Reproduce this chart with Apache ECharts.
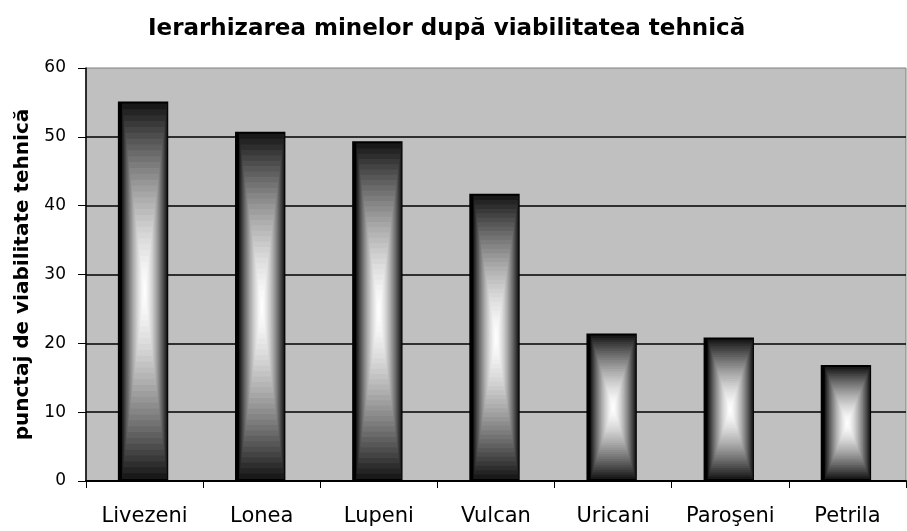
<!DOCTYPE html>
<html>
<head>
<meta charset="utf-8">
<script src="https://cdn.jsdelivr.net/npm/echarts@6/dist/echarts.min.js"></script>
<style>
  html, body { margin: 0; padding: 0; background: #fff; }
  #chart { width: 907px; height: 531px; }
</style>
</head>
<body>
<div id="chart"></div>
<script>
// date
var mine = ['Livezeni', 'Lonea', 'Lupeni', 'Vulcan', 'Uricani', 'Paroşeni', 'Petrila']
var punctaj = [55, 50.6, 49.2, 41.6, 21.3, 20.7, 16.7]
var yTicks = [0, 10, 20, 30, 40, 50, 60]

var RINGS = 32
var FONT = 'DejaVu Sans, Liberation Sans, Arial, sans-serif'

function grayHex(v) {
  var h = Math.round(v).toString(16)
  if (h.length < 2) h = '0' + h
  return '#' + h + h + h
}

// bara cu gradient "din centru" (dreptunghiuri concentrice)
function renderBar(params, api) {
  var top = api.coord([api.value(0), api.value(1)])
  var base = api.coord([api.value(0), 0])
  var bw = api.size([1, 0])[0] * 0.43
  var xl = top[0] - bw * 0.53
  var children = [{
    type: 'rect',
    shape: { x: xl, y: top[1] - 1, width: bw, height: base[1] - top[1] + 1 },
    style: { fill: '#000' }
  }]
  var x0 = xl + 4
  var w = bw - 5
  var y0 = top[1] + 1
  var h = base[1] - y0 - 2
  var cx = x0 + w / 2
  var cy = y0 + h / 2
  for (var i = 0; i < RINGS; i++) {
    var f = 1 - i / RINGS
    children.push({
      type: 'rect',
      shape: { x: cx - w * f / 2, y: cy - h * f / 2, width: w * f, height: h * f },
      style: { fill: grayHex(255 - 230 * Math.pow(f, 1.5)) }
    })
  }
  return { type: 'group', children: children }
}

var chart = echarts.init(document.getElementById('chart'))
chart.setOption({
  animation: false,
  backgroundColor: '#fff',
  textStyle: { fontFamily: FONT, color: '#000' },
  title: {
    text: 'Ierarhizarea minelor după viabilitatea tehnică',
    left: 148,
    top: 18,
    padding: 0,
    textStyle: { fontSize: 23, fontWeight: 'bold', color: '#000', fontFamily: FONT }
  },
  grid: { left: 86, right: 1, top: 68, bottom: 50, show: true, backgroundColor: '#c0c0c0', borderWidth: 1, borderColor: '#808080' },
  xAxis: {
    type: 'category',
    data: mine,
    boundaryGap: true,
    axisLine: { lineStyle: { color: '#000', width: 2 } },
    axisTick: { show: true, length: 7, lineStyle: { color: '#000', width: 1 } },
    axisLabel: { fontSize: 21, color: '#000', margin: 25, interval: 0, fontFamily: FONT }
  },
  yAxis: {
    type: 'value',
    min: yTicks[0],
    max: yTicks[yTicks.length - 1],
    interval: 10,
    name: 'punctaj de viabilitate tehnică',
    nameLocation: 'middle',
    nameGap: 53,
    nameTextStyle: { fontSize: 20, fontWeight: 'bold', color: '#000', fontFamily: FONT },
    axisLine: { show: true, lineStyle: { color: '#000', width: 1.5 } },
    axisTick: { show: true, length: 8, lineStyle: { color: '#000' } },
    axisLabel: { fontSize: 17, color: '#000', margin: 20, fontFamily: FONT },
    splitLine: { show: true, showMaxLine: false, lineStyle: { color: '#000', width: 1.5 } }
  },
  series: [{
    type: 'custom',
    renderItem: renderBar,
    data: punctaj.map(function(v, i) { return [i, v] }),
    encode: { x: 0, y: 1 }
  }]
})
</script>
</body>
</html>
